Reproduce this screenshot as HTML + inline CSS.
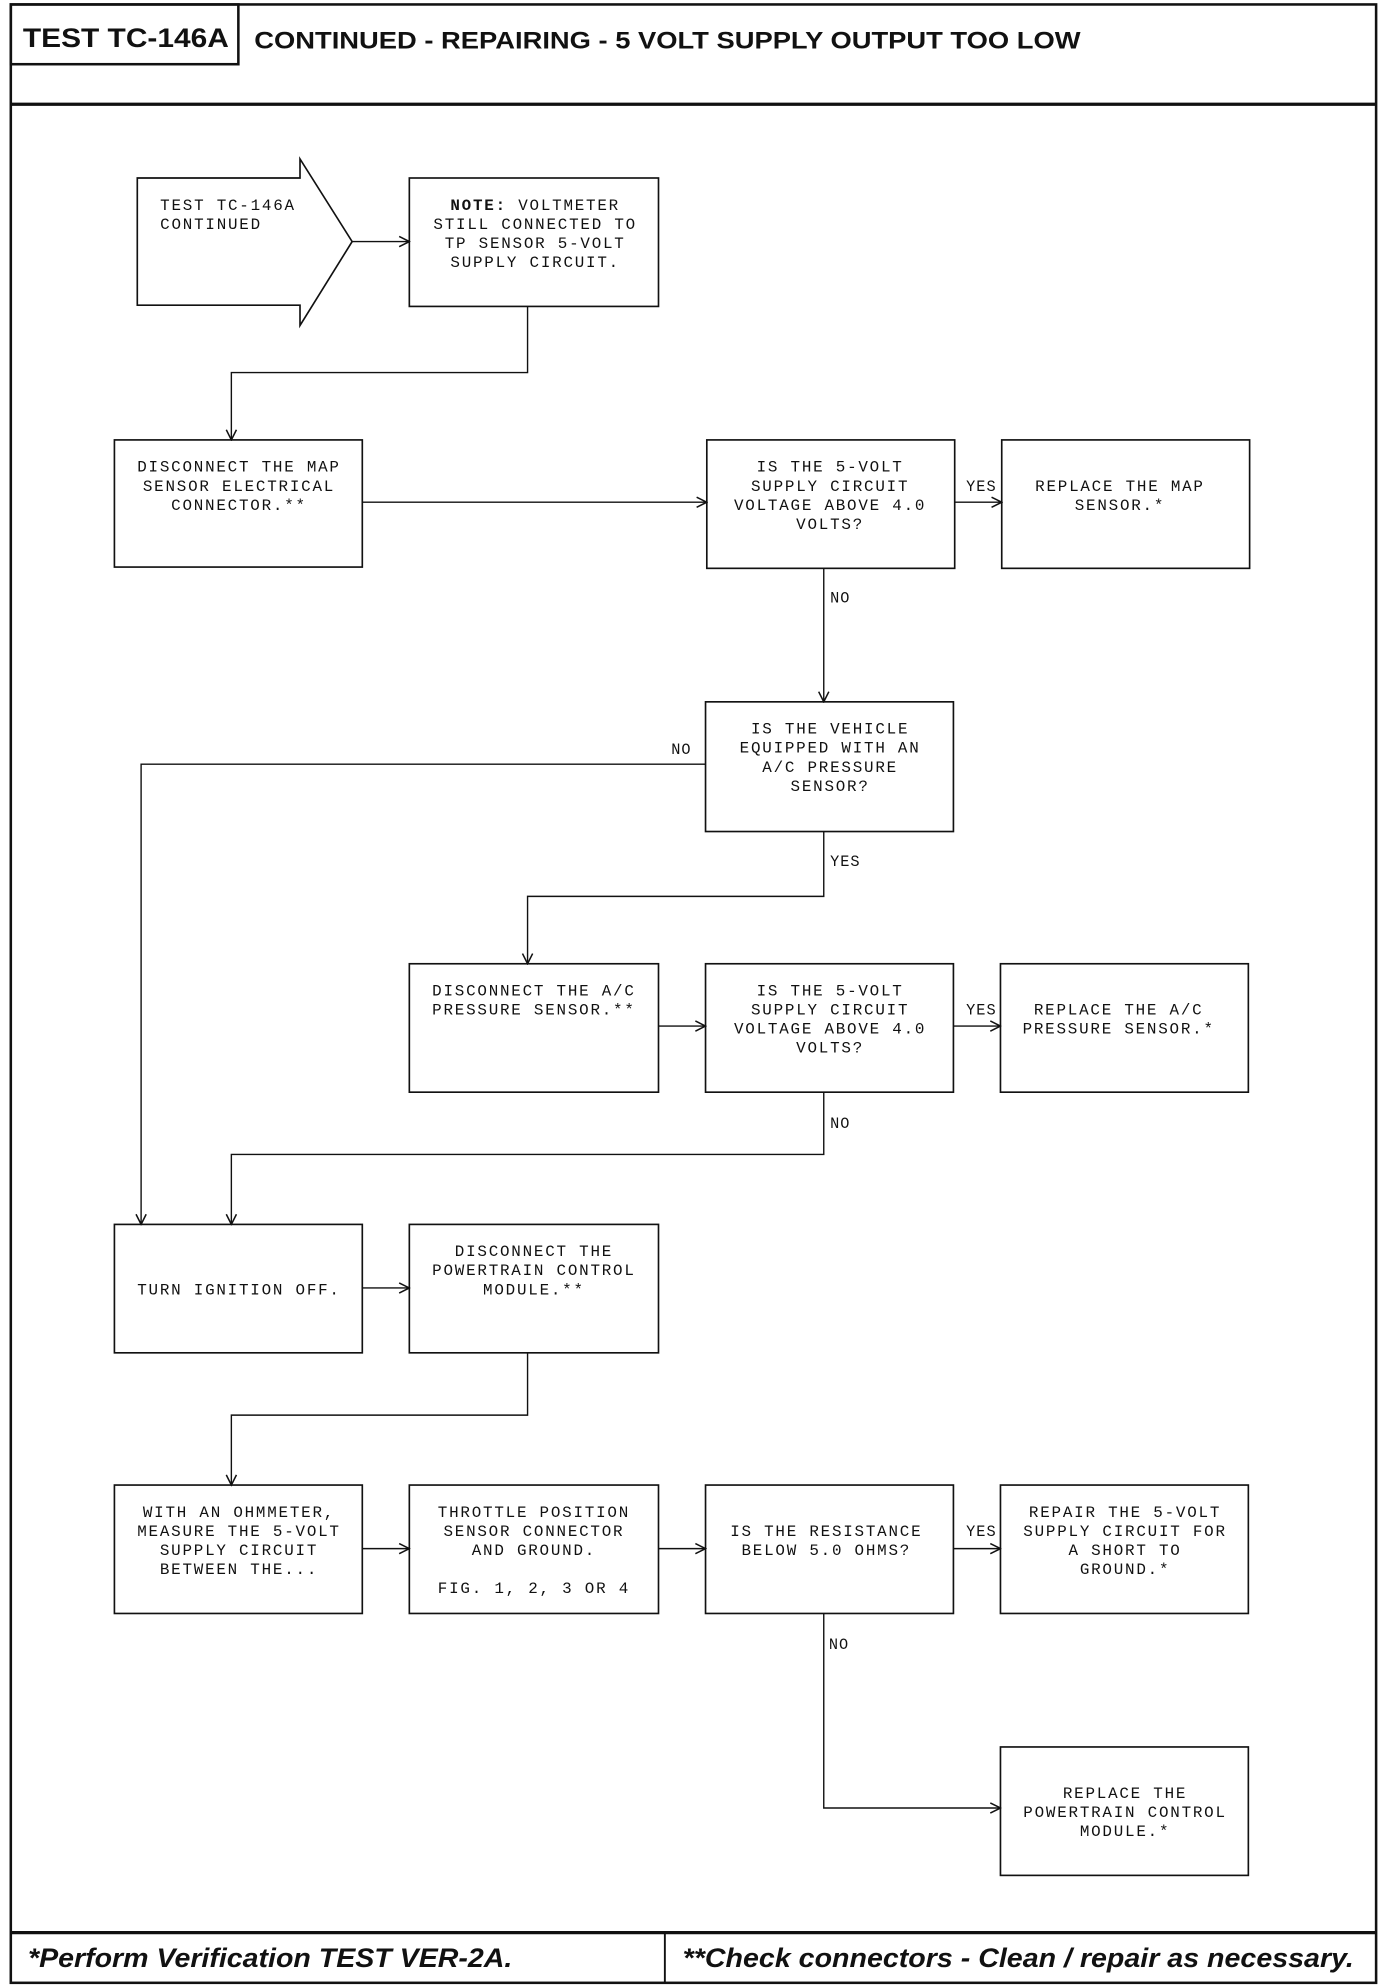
<!DOCTYPE html>
<html><head><meta charset="utf-8"><style>
html,body{margin:0;padding:0;background:#fff;}
svg{display:block;}
.t{font-family:"Liberation Mono",monospace;font-size:12.5px;letter-spacing:1.4px;fill:#111;text-anchor:middle;}
.l{font-family:"Liberation Mono",monospace;font-size:12px;letter-spacing:0.8px;fill:#111;}
</style></head><body>
<svg width="1392" height="1986" viewBox="0 0 1095 1562" preserveAspectRatio="none" xmlns="http://www.w3.org/2000/svg">
<defs><marker id="a" markerWidth="10" markerHeight="10" refX="9" refY="5" orient="auto" markerUnits="userSpaceOnUse"><path d="M1,1 L9,5 L1,9" fill="none" stroke="#111" stroke-width="1.2"/></marker></defs>
<g fill="none" stroke="#111">
<rect x="8.5" y="3.5" width="1074" height="1556" stroke-width="2"/>
<line x1="8" y1="82" x2="1083" y2="82" stroke-width="2.5"/>
<rect x="8.5" y="3.5" width="179" height="47" stroke-width="2"/>
<line x1="8" y1="1520" x2="1083" y2="1520" stroke-width="2.5"/>
<line x1="523" y1="1520" x2="523" y2="1560" stroke-width="1.5"/>
<g stroke-width="1.3">
<path d="M108,140 L236,140 L236,125 L277,190 L236,256 L236,240 L108,240 Z"/>
<rect x="322" y="140" width="196" height="101"/>
<rect x="90" y="346" width="195" height="100"/>
<rect x="556" y="346" width="195" height="101"/>
<rect x="788" y="346" width="195" height="101"/>
<rect x="555" y="552" width="195" height="102"/>
<rect x="322" y="758" width="196" height="101"/>
<rect x="555" y="758" width="195" height="101"/>
<rect x="787" y="758" width="195" height="101"/>
<rect x="90" y="963" width="195" height="101"/>
<rect x="322" y="963" width="196" height="101"/>
<rect x="90" y="1168" width="195" height="101"/>
<rect x="322" y="1168" width="196" height="101"/>
<rect x="555" y="1168" width="195" height="101"/>
<rect x="787" y="1168" width="195" height="101"/>
<rect x="787" y="1374" width="195" height="101"/>
</g>
<g stroke-width="1.1" marker-end="url(#a)">
<path d="M277,190 L322,190"/>
<path d="M415,241 L415,293 L182,293 L182,346"/>
<path d="M285,395 L556,395"/>
<path d="M751,395 L788,395"/>
<path d="M648,447 L648,552"/>
<path d="M555,601 L111,601 L111,963"/>
<path d="M648,654 L648,705 L415,705 L415,758"/>
<path d="M518,807 L555,807"/>
<path d="M750,807 L787,807"/>
<path d="M648,859 L648,908 L182,908 L182,963"/>
<path d="M285,1013 L322,1013"/>
<path d="M415,1064 L415,1113 L182,1113 L182,1168"/>
<path d="M285,1218 L322,1218"/>
<path d="M518,1218 L555,1218"/>
<path d="M750,1218 L787,1218"/>
<path d="M648,1269 L648,1422 L787,1422"/>
</g>
</g>
<text x="18" y="37" font-family="Liberation Sans,sans-serif" font-weight="bold" font-size="21" fill="#111" textLength="162" lengthAdjust="spacingAndGlyphs">TEST TC-146A</text>
<text x="200" y="38" font-family="Liberation Sans,sans-serif" font-weight="bold" font-size="19" fill="#111" textLength="650" lengthAdjust="spacingAndGlyphs">CONTINUED - REPAIRING - 5 VOLT SUPPLY OUTPUT TOO LOW</text>
<text x="22" y="1547" font-family="Liberation Sans,sans-serif" font-weight="bold" font-style="italic" font-size="21" fill="#111" textLength="381" lengthAdjust="spacingAndGlyphs">*Perform Verification TEST VER-2A.</text>
<text x="537" y="1547" font-family="Liberation Sans,sans-serif" font-weight="bold" font-style="italic" font-size="21" fill="#111" textLength="528" lengthAdjust="spacingAndGlyphs">**Check connectors - Clean / repair as necessary.</text>
<g class="t">
<text x="126" y="165" style="text-anchor:start">TEST TC-146A</text>
<text x="126" y="180" style="text-anchor:start">CONTINUED</text>
<text x="421" y="165"><tspan font-weight="bold">NOTE:</tspan> VOLTMETER</text>
<text x="421" y="180">STILL CONNECTED TO</text>
<text x="421" y="195">TP SENSOR 5-VOLT</text>
<text x="421" y="210">SUPPLY CIRCUIT.</text>
<text x="188" y="371">DISCONNECT THE MAP</text>
<text x="188" y="386">SENSOR ELECTRICAL</text>
<text x="188" y="401">CONNECTOR.**</text>
<text x="653" y="371">IS THE 5-VOLT</text>
<text x="653" y="386">SUPPLY CIRCUIT</text>
<text x="653" y="401">VOLTAGE ABOVE 4.0</text>
<text x="653" y="416">VOLTS?</text>
<text x="881" y="386">REPLACE THE MAP</text>
<text x="881" y="401">SENSOR.*</text>
<text x="653" y="577">IS THE VEHICLE</text>
<text x="653" y="592">EQUIPPED WITH AN</text>
<text x="653" y="607">A/C PRESSURE</text>
<text x="653" y="622">SENSOR?</text>
<text x="420" y="783">DISCONNECT THE A/C</text>
<text x="420" y="798">PRESSURE SENSOR.**</text>
<text x="653" y="783">IS THE 5-VOLT</text>
<text x="653" y="798">SUPPLY CIRCUIT</text>
<text x="653" y="813">VOLTAGE ABOVE 4.0</text>
<text x="653" y="828">VOLTS?</text>
<text x="880" y="798">REPLACE THE A/C</text>
<text x="880" y="813">PRESSURE SENSOR.*</text>
<text x="188" y="1018">TURN IGNITION OFF.</text>
<text x="420" y="988">DISCONNECT THE</text>
<text x="420" y="1003">POWERTRAIN CONTROL</text>
<text x="420" y="1018">MODULE.**</text>
<text x="188" y="1193">WITH AN OHMMETER,</text>
<text x="188" y="1208">MEASURE THE 5-VOLT</text>
<text x="188" y="1223">SUPPLY CIRCUIT</text>
<text x="188" y="1238">BETWEEN THE...</text>
<text x="420" y="1193">THROTTLE POSITION</text>
<text x="420" y="1208">SENSOR CONNECTOR</text>
<text x="420" y="1223">AND GROUND.</text>
<text x="420" y="1253">FIG. 1, 2, 3 OR 4</text>
<text x="650" y="1208">IS THE RESISTANCE</text>
<text x="650" y="1223">BELOW 5.0 OHMS?</text>
<text x="885" y="1193">REPAIR THE 5-VOLT</text>
<text x="885" y="1208">SUPPLY CIRCUIT FOR</text>
<text x="885" y="1223">A SHORT TO</text>
<text x="885" y="1238">GROUND.*</text>
<text x="885" y="1414">REPLACE THE</text>
<text x="885" y="1429">POWERTRAIN CONTROL</text>
<text x="885" y="1444">MODULE.*</text>
</g>
<g class="l">
<text x="760" y="386">YES</text>
<text x="653" y="474">NO</text>
<text x="528" y="593">NO</text>
<text x="653" y="681">YES</text>
<text x="760" y="798">YES</text>
<text x="653" y="887">NO</text>
<text x="760" y="1208">YES</text>
<text x="652" y="1297">NO</text>
</g>
</svg>
</body></html>
